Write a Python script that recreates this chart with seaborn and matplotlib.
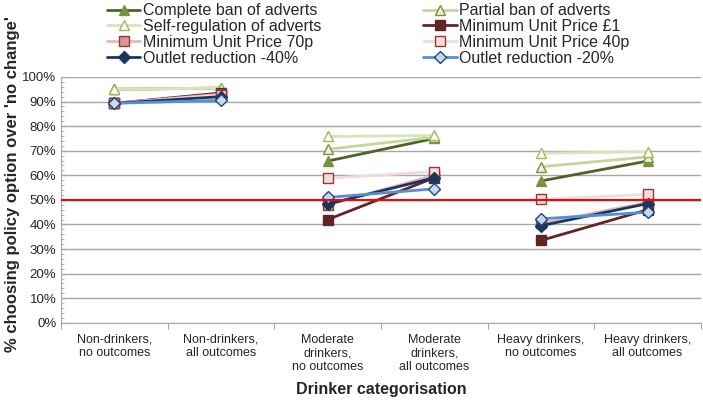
import matplotlib
matplotlib.use("Agg")
import matplotlib.pyplot as plt
import pandas as pd
import seaborn as sns
from matplotlib.lines import Line2D
from matplotlib.ticker import MultipleLocator, FuncFormatter

# categories on the x axis
categories = ["Non-drinkers,\nno outcomes", "Non-drinkers,\nall outcomes",
              "Moderate\ndrinkers,\nno outcomes", "Moderate\ndrinkers,\nall outcomes",
              "Heavy drinkers,\nno outcomes", "Heavy drinkers,\nall outcomes"]

policies = ["Complete ban of adverts", "Partial ban of adverts", "Self-regulation of adverts",
            "Minimum Unit Price £1", "Minimum Unit Price 70p", "Minimum Unit Price 40p",
            "Outlet reduction -40%", "Outlet reduction -20%"]

# % choosing policy over 'no change', one value per category
complete_ban = [95.0, 95.5, 65.8, 75.0, 57.7, 65.8]
partial_ban = [95.0, 95.5, 70.6, 75.5, 63.5, 67.5]
self_reg = [95.0, 95.5, 75.8, 76.2, 69.0, 69.6]
mup_1 = [89.3, 93.5, 42.0, 59.0, 33.5, 46.0]
mup_70 = [89.3, 93.0, 48.0, 60.0, 40.5, 49.0]
mup_40 = [89.3, 92.5, 58.8, 61.5, 50.2, 52.3]
outlet_40 = [89.3, 92.0, 48.3, 59.0, 39.5, 48.5]
outlet_20 = [89.3, 90.5, 51.0, 54.5, 42.3, 45.0]

values = [complete_ban, partial_ban, self_reg, mup_1, mup_70, mup_40, outlet_40, outlet_20]

styles = {
    "Complete ban of adverts": dict(color="#4f6228", marker="^", mfc="#77933c", mec="#77933c"),
    "Partial ban of adverts": dict(color="#c3d69b", marker="^", mfc="#ebf1de", mec="#77933c"),
    "Self-regulation of adverts": dict(color="#d7e4bd", marker="^", mfc="#ffffff", mec="#9bbb59"),
    "Minimum Unit Price £1": dict(color="#632523", marker="s", mfc="#632523", mec="#632523"),
    "Minimum Unit Price 70p": dict(color="#e6b9b8", marker="s", mfc="#da9694", mec="#953735"),
    "Minimum Unit Price 40p": dict(color="#f2dcdb", marker="s", mfc="#f2dcdb", mec="#953735"),
    "Outlet reduction -40%": dict(color="#17375e", marker="D", mfc="#17375e", mec="#17375e"),
    "Outlet reduction -20%": dict(color="#558ed5", marker="D", mfc="#c6d9f1", mec="#1f497d"),
}

rows = []
for p, vals in zip(policies, values):
    for i, v in enumerate(vals):
        rows.append({"policy": p, "x": i, "pair": i // 2, "value": v})
df = pd.DataFrame(rows)

sns.set_style("white")
plt.rcParams["font.family"] = ["Liberation Sans", "DejaVu Sans"]

fig = plt.figure(figsize=(7.03, 4.01), dpi=100)
ax = fig.add_axes([0.087, 0.195, 0.91, 0.613])

for p in policies:
    st = styles[p]
    msize = 6 if st["marker"] == "D" else 7
    for g in range(3):
        d = df[(df.policy == p) & (df.pair == g)]
        sns.lineplot(data=d, x="x", y="value", ax=ax, color=st["color"], lw=2,
                     marker=st["marker"], markersize=msize, markerfacecolor=st["mfc"],
                     markeredgecolor=st["mec"], markeredgewidth=1, legend=False, zorder=3)

ax.axhline(50, color="#ff0000", lw=1.5, zorder=4)

ax.set_ylim(0, 100)
ax.set_xlim(-0.5, 5.5)
ax.yaxis.set_major_locator(MultipleLocator(10))
ax.yaxis.set_minor_locator(MultipleLocator(2))
ax.yaxis.set_major_formatter(FuncFormatter(lambda v, pos: f"{int(v)}%"))
ax.grid(axis="y", which="major", color="#a6a6a6", lw=1, zorder=0)
ax.tick_params(axis="y", which="both", left=True, direction="in", color="#a6a6a6", labelsize=9.5)
ax.tick_params(axis="y", which="major", length=4)
ax.tick_params(axis="y", which="minor", length=2)

ax.set_xticks([i + 0.5 for i in range(-1, 6)])
ax.set_xticklabels([])
ax.set_xticks(range(6), minor=True)
ax.set_xticklabels(categories, minor=True, fontsize=9, linespacing=1.15)
ax.tick_params(axis="x", which="major", bottom=True, direction="out", length=4, color="#a6a6a6")
ax.tick_params(axis="x", which="minor", bottom=False, pad=6)

for s in ["top", "right"]:
    ax.spines[s].set_visible(False)
for s in ["left", "bottom"]:
    ax.spines[s].set_color("#a6a6a6")

ax.set_xlabel("Drinker categorisation", fontsize=11.5, fontweight="bold", labelpad=7)
ax.set_ylabel("% choosing policy option over 'no change'", fontsize=12, fontweight="bold")
ax.yaxis.set_label_coords(-0.064, 0.565)

handles = {}
for p in policies:
    st = styles[p]
    msize = 6 if st["marker"] == "D" else 7
    handles[p] = Line2D([], [], color=st["color"], lw=2, marker=st["marker"], markersize=msize,
                        markerfacecolor=st["mfc"], markeredgecolor=st["mec"])

left_col = policies[0::2]
right_col = policies[1::2]
leg_kw = dict(loc="upper left", frameon=False, fontsize=11.5, handlelength=2.1,
              handletextpad=0.15, labelspacing=0.05, borderpad=0, borderaxespad=0)
fig.legend([handles[p] for p in left_col], left_col,
           bbox_to_anchor=(0.152, 0.992), **leg_kw)
fig.legend([handles[p] for p in right_col], right_col,
           bbox_to_anchor=(0.602, 0.992), **leg_kw)

fig.savefig("out.png", dpi=100)
